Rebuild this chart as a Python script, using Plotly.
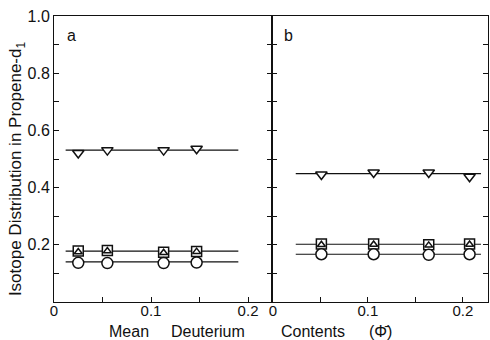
import plotly.graph_objects as go
from plotly.subplots import make_subplots

# Panel a data
a_x = [0.025, 0.055, 0.113, 0.147]
a_down = [0.521, 0.531, 0.531, 0.536]
a_square = [0.178, 0.180, 0.174, 0.177]
a_up = [0.175, 0.178, 0.172, 0.176]
a_circle = [0.137, 0.136, 0.136, 0.138]
a_line_x = [0.012, 0.19]
a_levels = [0.531, 0.178, 0.140]

# Panel b data
b_x = [0.051, 0.106, 0.164, 0.207]
b_down = [0.446, 0.453, 0.453, 0.438]
b_square = [0.203, 0.203, 0.200, 0.203]
b_up = [0.200, 0.201, 0.198, 0.201]
b_circle = [0.167, 0.167, 0.165, 0.167]
b_line_x = [0.024, 0.219]
b_levels = [0.449, 0.202, 0.167]

x_tickvals = [0, 0.05, 0.1, 0.15, 0.2]
x_ticktext = ["0", "", "0.1", "", "0.2"]
y_tickvals = [0.1, 0.2, 0.3, 0.4, 0.5, 0.6, 0.7, 0.8, 0.9, 1.0]
y_ticktext = ["", "0.2", "", "0.4", "", "0.6", "", "0.8", "", "1.0"]
x_title_words = ["Mean", "Deuterium", "Contents", "(\u03a6\u0304)"]

FONT = "Liberation Sans"
BLACK = "#111111"

fig = make_subplots(rows=1, cols=2, shared_yaxes=True, horizontal_spacing=0)


def add_panel(col, xs, down, sq, up, circ, lx, levels):
    for lv in levels:
        fig.add_trace(go.Scatter(x=lx, y=[lv, lv], mode="lines",
                                 line=dict(color=BLACK, width=1.2),
                                 showlegend=False, hoverinfo="skip"),
                      row=1, col=col)
    specs = [(down, "triangle-down", 10),
             (sq, "square", 10),
             (up, "triangle-up", 7),
             (circ, "circle", 11)]
    for ys, sym, sz in specs:
        fig.add_trace(go.Scatter(x=xs, y=ys, mode="markers",
                                 marker=dict(symbol=sym, size=sz, color="white",
                                             line=dict(color=BLACK, width=1.5)),
                                 showlegend=False),
                      row=1, col=col)


add_panel(1, a_x, a_down, a_square, a_up, a_circle, a_line_x, a_levels)
add_panel(2, b_x, b_down, b_square, b_up, b_circle, b_line_x, b_levels)

split = 218 / 434
fig.update_layout(
    width=490, height=340,
    margin=dict(l=54, r=2, t=16, b=38),
    paper_bgcolor="white", plot_bgcolor="white",
    font=dict(family=FONT, size=16, color=BLACK),
    xaxis=dict(domain=[0, split], range=[0, 0.2247]),
    xaxis2=dict(domain=[split, 1], range=[-0.001, 0.2264]),
)
for ax in ["xaxis", "xaxis2"]:
    fig.layout[ax].update(tickmode="array", tickvals=x_tickvals, ticktext=x_ticktext,
                          ticks="inside", ticklen=5, tickcolor=BLACK,
                          showline=True, linecolor=BLACK, linewidth=1.3,
                          mirror=True, showgrid=False, zeroline=False,
                          ticklabelstandoff=-5,
                          tickfont=dict(size=15))
fig.update_yaxes(range=[0, 1.0], tickmode="array", tickvals=y_tickvals, ticktext=y_ticktext,
                 ticks="inside", ticklen=5, tickcolor=BLACK,
                 showline=True, linecolor=BLACK, linewidth=1.0,
                 mirror="ticks", showgrid=False, zeroline=False,
                 tickfont=dict(size=16))
fig.update_yaxes(showticklabels=False, row=1, col=2)

fig.add_annotation(text="Isotope Distribution in Propene-d<sub>1</sub>",
                   xref="paper", yref="paper", x=-0.085, y=0.465, textangle=-90,
                   xanchor="center", yanchor="middle",
                   showarrow=False, font=dict(size=17, family=FONT))

word_px = [129, 208, 313, 380]
for w, px in zip(x_title_words, word_px):
    fig.add_annotation(text=w, xref="paper", yref="paper",
                       x=(px - 54) / 434, y=-(331 - 302) / 286,
                       xanchor="center", yanchor="middle",
                       showarrow=False, font=dict(size=16, family=FONT))

fig.add_annotation(text="a", xref="x domain", yref="y domain", x=0.05, y=0.97,
                   xanchor="left", yanchor="top", showarrow=False, font=dict(size=16))
fig.add_annotation(text="b", xref="x2 domain", yref="y domain", x=0.045, y=0.97,
                   xanchor="left", yanchor="top", showarrow=False, font=dict(size=16))

fig.write_html("out.html", config={"displayModeBar": False},
               post_script="document.body.style.margin='0';document.body.style.overflow='hidden';")
